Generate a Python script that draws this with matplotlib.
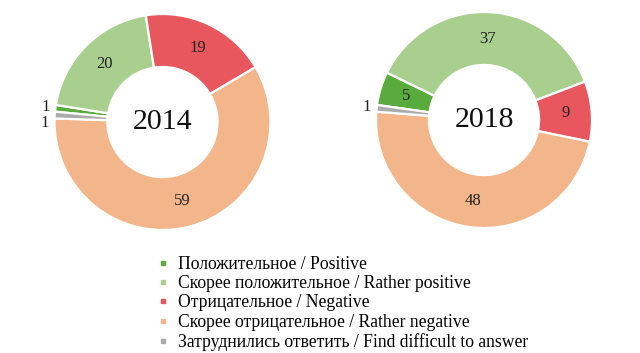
import numpy as np
import matplotlib
matplotlib.use('Agg')
import matplotlib.pyplot as plt
from matplotlib.lines import Line2D

plt.rcParams['font.family'] = ['Liberation Serif', 'DejaVu Serif']

categories = ['Положительное / Positive',
              'Скорее положительное / Rather positive',
              'Отрицательное / Negative',
              'Скорее отрицательное / Rather negative',
              'Затруднились ответить / Find difficult to answer']
colors = ['#58ab3c', '#a9cf8f', '#e8565e', '#f3b68b', '#ababab']

years = ['2014', '2018']
values_2014 = [1, 20, 19, 59, 1]
values_2018 = [5, 37, 9, 48, 1]

W, H = 640, 353
fig = plt.figure(figsize=(W / 100, H / 100), dpi=100)

R_PX = 108
LIM = 1.25


def donut(cx, cy, vals, year, start, nudges):
    side = 2 * LIM * R_PX
    ax = fig.add_axes([(cx - side / 2) / W, (H - cy - side / 2) / H, side / W, side / H])
    wedges, _ = ax.pie(vals, colors=colors, startangle=start, counterclock=False,
                       radius=1, wedgeprops=dict(width=0.49, edgecolor='white', linewidth=1.6))
    ax.set_xlim(-LIM, LIM)
    ax.set_ylim(-LIM, LIM)
    ax.set_aspect('equal')
    ax.axis('off')
    for i, (w, v) in enumerate(zip(wedges, vals)):
        ang = np.deg2rad((w.theta1 + w.theta2) / 2)
        r = 0.755 if v >= 3 else 1.09
        x, y = r * np.cos(ang), r * np.sin(ang)
        y += nudges.get(i, 0)
        ax.text(x, y, str(v), ha='center', va='center', fontsize=12, color='#222222')
    ax.text(0, 0, year, ha='center', va='center', fontsize=21.5, color='#111111')
    return wedges


donut(162.5, 122, values_2014, years[0], 174.5, {4: -0.08})
donut(484, 120, values_2018, years[1], 172, {})

handles = [Line2D([], [], marker='s', linestyle='none', color=c, markersize=3.3)
           for c in colors]
fig.legend(handles, categories, loc='upper left', bbox_to_anchor=(148 / W, 1 - 247 / H),
           frameon=False, fontsize=12.7, handlelength=0.7, handletextpad=0.5,
           labelspacing=0.13, borderpad=0)

fig.savefig('out.png', dpi=100)
